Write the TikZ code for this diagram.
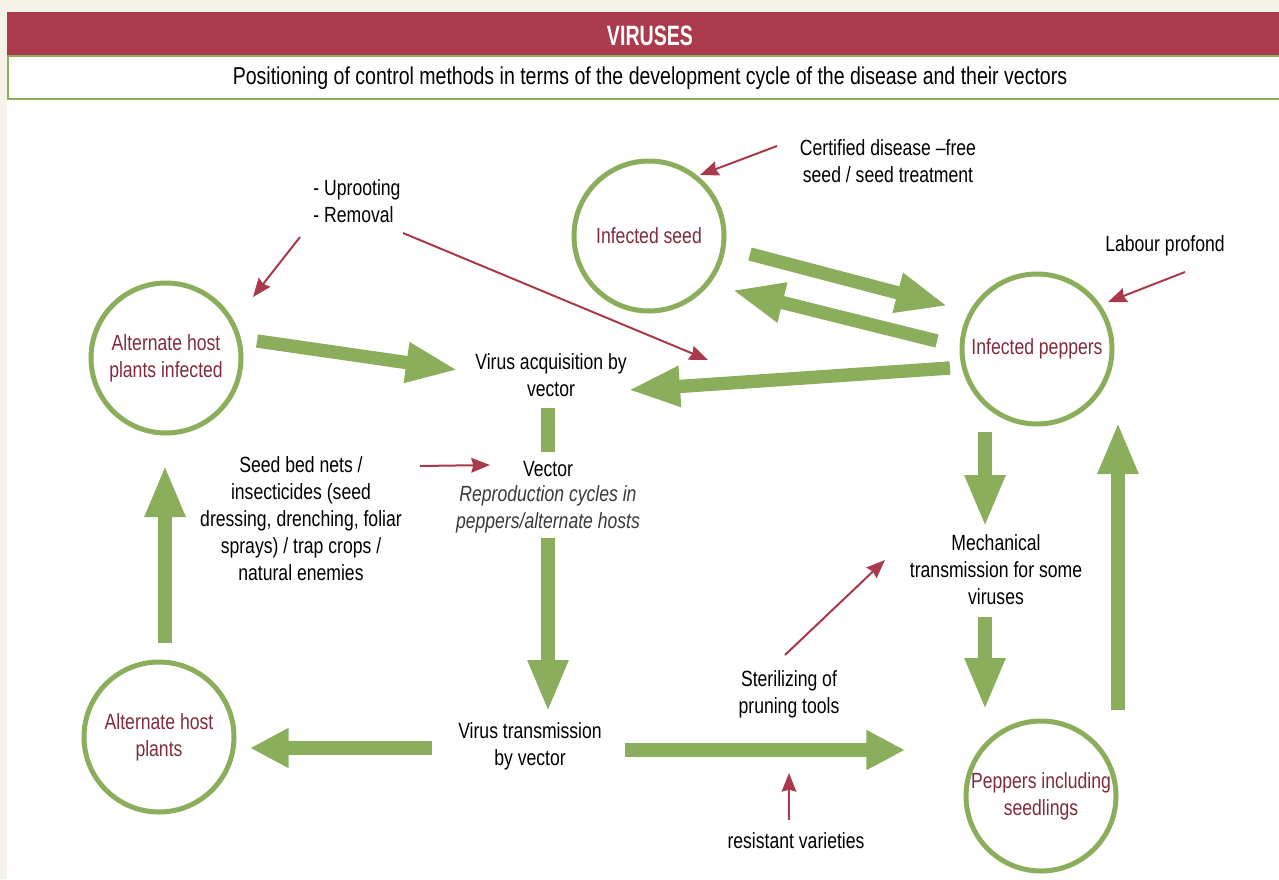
\documentclass[tikz,border=0pt]{standalone}
\usepackage{fontspec}
\setmainfont{Liberation Sans}[FakeStretch=0.8]
\newfontfamily\hdfont{Liberation Sans}[FakeStretch=0.7]
\usetikzlibrary{arrows.meta}
\definecolor{cream}{HTML}{F5F2EA}
\definecolor{hdred}{HTML}{AB3B4C}
\definecolor{lgreen}{HTML}{8AAE5C}
\definecolor{ctext}{HTML}{7F2C3C}
\definecolor{rarrow}{HTML}{A83A4C}
\definecolor{itgrey}{HTML}{3A3A3A}
\begin{document}
\begin{tikzpicture}[x=0.75pt,y=-0.75pt,
  txt/.style={font=\fontsize{16.5}{20.25}\selectfont, align=center, inner sep=0pt, text=black},
  circ/.style={circle, draw=lgreen, line width=3.75pt, minimum size=112.5pt, inner sep=0pt, align=center, text=ctext, font=\fontsize{16.5}{20.25}\selectfont},
  garrow/.style={lgreen, line width=10pt, -{Triangle[length=39pt,width=28pt]}},
  gshort/.style={lgreen, line width=10pt, -{Triangle[length=29pt,width=28pt]}},
  gbar/.style={lgreen, line width=10pt},
  rarr/.style={rarrow, line width=1.5pt, -{Stealth[length=14pt,width=11pt,inset=1.5pt]}}]
\useasboundingbox (0,0) rectangle (1279,879);
\fill[cream] (0,0) rectangle (1279,879);
\fill[white] (7,100) rectangle (1279,879);
\fill[hdred] (7,12) rectangle (1279,55);
\fill[white] (8,56) rectangle (1279,99);
\draw[lgreen, line width=2pt] (1279,56) -- (8,56) -- (8,99) -- (1279,99);
\node[font=\hdfont\bfseries\fontsize{21}{24}\selectfont, text=white, inner sep=0pt] (hdr) at (650,36) {VIRUSES};
\node[txt, font=\fontsize{18.3}{22}\selectfont] (title) at (650,78) {Positioning of control methods in terms of the development cycle of the disease and their vectors};

% circles
\node[circ] (seed) at (649,236) {Infected seed};
\node[circ] (ahi) at (166,358) {Alternate host\\plants infected};
\node[circ] (pep) at (1037,349) {Infected peppers};
\node[circ] (ahp) at (159,737) {Alternate host\\plants};
\node[circ] (seedl) at (1041,796) {Peppers including\\seedlings};

% texts
\node[txt, align=left] (uproot) at (357,201) {- Uprooting\\- Removal};
\node[txt] (cert) at (888,161) {Certified disease --free\\seed / seed treatment};
\node[txt] (labour) at (1165,246) {Labour profond};
\node[txt] (acq) at (551,375) {Virus acquisition by\\vector};
\node[txt] (vec) at (548,469) {Vector};
\node[txt, text=itgrey] (repro) at (548,509) {\itshape Reproduction cycles in\\\itshape peppers/alternate hosts};
\node[txt] (nets) at (301,519) {Seed bed nets /\\insecticides (seed\\dressing, drenching, foliar\\sprays) / trap crops /\\natural enemies};
\node[txt] (mech) at (996,570) {Mechanical\\transmission for some\\viruses};
\node[txt] (steril) at (789,694) {Sterilizing of\\pruning tools};
\node[txt] (trans) at (530,746) {Virus transmission\\by vector};
\node[txt] (resist) at (796,841) {resistant varieties};

% green arrow end points
\coordinate (g1a) at (257,341); \coordinate (g1b) at (458,370);
\coordinate (g2a) at (950,368); \coordinate (g2b) at (628,390);
\coordinate (g3a) at (750,254); \coordinate (g3b) at (948,306);
\coordinate (g4a) at (937,341); \coordinate (g4b) at (732,290);
\coordinate (g5a) at (548,408); \coordinate (g5b) at (548,452);
\coordinate (g6a) at (548,538); \coordinate (g6b) at (548,712);
\coordinate (g7a) at (432,748); \coordinate (g7b) at (250,748);
\coordinate (g8a) at (625,750); \coordinate (g8b) at (905,750);
\coordinate (g9a) at (165,643); \coordinate (g9b) at (165,465);
\coordinate (g10a) at (985,432); \coordinate (g10b) at (985,527);
\coordinate (g11a) at (985,617); \coordinate (g11b) at (985,710);
\coordinate (g12a) at (1118,710); \coordinate (g12b) at (1118,422);

\draw[garrow] (g1a) -- (g1b);
\draw[garrow] (g2a) -- (g2b);
\draw[garrow] (g3a) -- (g3b);
\draw[garrow] (g4a) -- (g4b);
\draw[gbar] (g5a) -- (g5b);
\draw[garrow] (g6a) -- (g6b);
\draw[gshort] (g7a) -- (g7b);
\draw[gshort] (g8a) -- (g8b);
\draw[garrow] (g9a) -- (g9b);
\draw[garrow] (g10a) -- (g10b);
\draw[garrow] (g11a) -- (g11b);
\draw[garrow] (g12a) -- (g12b);

% red arrows
\coordinate (r1a) at (777,146); \coordinate (r1b) at (700,175);
\coordinate (r2a) at (1185,272); \coordinate (r2b) at (1108,302);
\coordinate (r3a) at (300,237); \coordinate (r3b) at (253,297);
\coordinate (r4a) at (403,233); \coordinate (r4b) at (708,360);
\coordinate (r5a) at (420,466); \coordinate (r5b) at (490,465);
\coordinate (r6a) at (785,655); \coordinate (r6b) at (885,560);
\coordinate (r7a) at (789,820); \coordinate (r7b) at (789,773);
\draw[rarr] (r1a) -- (r1b);
\draw[rarr] (r2a) -- (r2b);
\draw[rarr] (r3a) -- (r3b);
\draw[rarr] (r4a) -- (r4b);
\draw[rarr] (r5a) -- (r5b);
\draw[rarr] (r6a) -- (r6b);
\draw[rarr] (r7a) -- (r7b);
\end{tikzpicture}
\end{document}
